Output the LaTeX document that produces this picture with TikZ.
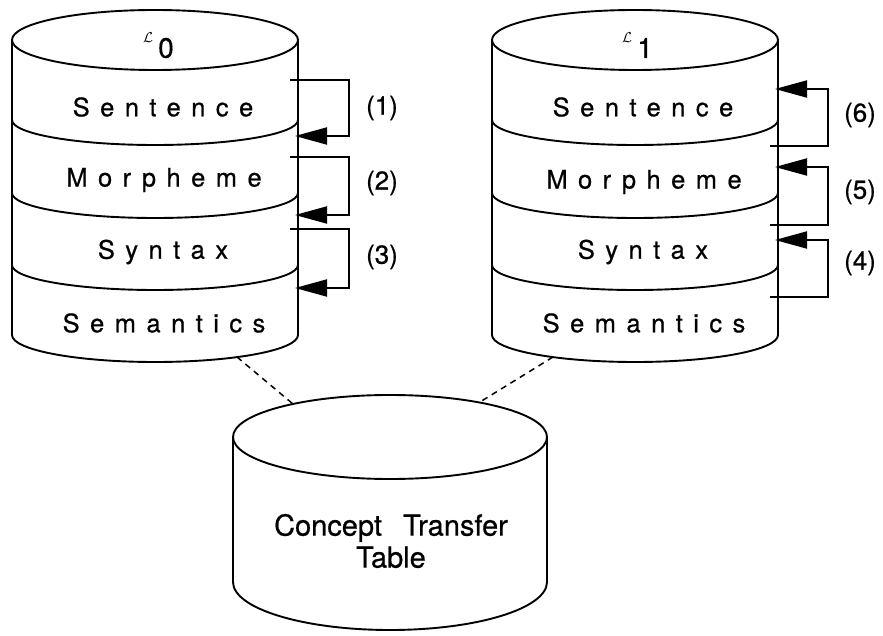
\documentclass[tikz,border=0pt]{standalone}
\usepackage{fontspec}
\setmainfont[FakeBold=0.6]{TeX Gyre Heros}
\newfontfamily\spacedfont[LetterSpace=41,FakeBold=0.6]{TeX Gyre Heros}
\usetikzlibrary{arrows.meta}
\newcommand\drawstack[1]{%
  \draw (#1,-40) ellipse [x radius=143, y radius=30];
  \draw (#1-143,-40) -- (#1-143,-335) arc[start angle=180,end angle=360,x radius=143,y radius=27] -- (#1+143,-40);
  \foreach \yc in {120,193,265} \draw (#1-143,-\yc) arc[start angle=180,end angle=360,x radius=143,y radius=25];
}
\begin{document}
\begin{tikzpicture}[x=1pt,y=1pt,line width=1.9pt,
  layer/.style={font=\spacedfont\fontsize{25.5}{30}\selectfont, inner sep=0pt},
  lbl/.style={font=\fontsize{26}{30}\selectfont, inner sep=0pt},
  sub/.style={font=\fontsize{28}{30}\selectfont, inner sep=0pt},
  cal/.style={font=\fontsize{14}{15}\selectfont, inner sep=0pt},
  fb/.style={line width=1.9pt, -{Triangle[length=32pt,width=17pt]}},
  dashline/.style={line width=1.5pt, dash pattern=on 6pt off 5pt}]
\useasboundingbox (0,0) rectangle (883,-636);
% stacks
\drawstack{155}
\drawstack{635}
% concept transfer table
\draw (390,-437) ellipse [x radius=157, y radius=42];
\draw (233,-437) -- (233,-582) arc[start angle=180,end angle=360,x radius=157,y radius=48] -- (547,-437);
% texts
\node[cal] (l0a) at (148,-38) {$\mathcal{L}$};
\node[sub] (l0b) at (166,-48) {0};
\node[cal] (l1a) at (627,-38) {$\mathcal{L}$};
\node[sub] (l1b) at (645,-48) {1};
\node[layer] (s0) at (163,-107) {Sentence};
\node[layer] (m0) at (164,-180) {Morpheme};
\node[layer] (y0) at (163,-252) {Syntax};
\node[layer] (e0) at (164,-323) {Semantics};
\node[layer] (s1) at (643,-107) {Sentence};
\node[layer] (m1) at (644,-182) {Morpheme};
\node[layer] (y1) at (643,-252) {Syntax};
\node[layer] (e1) at (644,-323) {Semantics};
\node[align=center, font=\fontsize{29}{32}\selectfont] (ctt) at (391,-541) {Concept\hspace{0.45em} Transfer\\Table};
% feedback loops, left
\coordinate (a1s) at (290,-80);  \coordinate (a1e) at (295,-136);
\coordinate (a2s) at (290,-157); \coordinate (a2e) at (295,-215);
\coordinate (a3s) at (290,-229); \coordinate (a3e) at (295,-288);
\draw[fb] (a1s) -- (349,-80) |- (a1e);
\draw[fb] (a2s) -- (349,-157) |- (a2e);
\draw[fb] (a3s) -- (349,-229) |- (a3e);
\node[lbl] (n1) at (382,-108) {(1)};
\node[lbl] (n2) at (382,-183) {(2)};
\node[lbl] (n3) at (382,-257) {(3)};
% feedback loops, right
\coordinate (b6s) at (770,-146); \coordinate (b6e) at (775,-89);
\coordinate (b5s) at (770,-225); \coordinate (b5e) at (775,-167);
\coordinate (b4s) at (770,-297); \coordinate (b4e) at (775,-240);
\draw[fb] (b6s) -- (828,-146) |- (b6e);
\draw[fb] (b5s) -- (828,-225) |- (b5e);
\draw[fb] (b4s) -- (828,-297) |- (b4e);
\node[lbl] (n6) at (860,-115) {(6)};
\node[lbl] (n5) at (860,-192) {(5)};
\node[lbl] (n4) at (860,-263) {(4)};
% dashed links
\coordinate (p0) at (237,-357);
\coordinate (q0) at (293,-404);
\coordinate (p1) at (553,-357);
\coordinate (q1) at (480,-402);
\draw[dashline] (p0) -- (q0);
\draw[dashline] (p1) -- (q1);
\end{tikzpicture}
\end{document}
